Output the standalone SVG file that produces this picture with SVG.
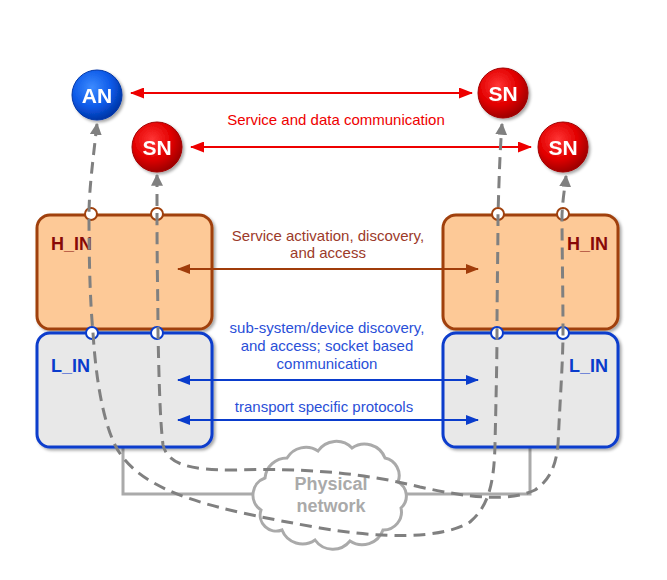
<svg xmlns="http://www.w3.org/2000/svg" width="667" height="580" viewBox="0 0 667 580">
<defs>
<style>
.lbl{font-family:"Liberation Sans",Arial,sans-serif;font-size:15px;text-anchor:middle}
.node{font-family:"Liberation Sans",Arial,sans-serif;font-size:21px;font-weight:bold;fill:#fff;text-anchor:middle}
.box{font-family:"Liberation Sans",Arial,sans-serif;font-size:18px;font-weight:bold}
.hin{fill:#fdc997;stroke:#a0410d;stroke-width:3}
.lin{fill:#e8e8e8;stroke:#0a3ccc;stroke-width:3}
.port{fill:#fff;stroke-width:2}
.dash{fill:none;stroke:#808080;stroke-width:3;stroke-dasharray:12 7;marker-start:url(#ga);marker-end:url(#ga)}
.phys{fill:none;stroke:#aaaaaa;stroke-width:3}
</style>
<radialGradient id="gb" cx="40%" cy="35%" r="65%">
<stop offset="0" stop-color="#3d8bff"/><stop offset="0.6" stop-color="#0d5ae8"/><stop offset="1" stop-color="#0036a8"/>
</radialGradient>
<radialGradient id="gr" cx="40%" cy="35%" r="65%">
<stop offset="0" stop-color="#ff3535"/><stop offset="0.6" stop-color="#e20000"/><stop offset="1" stop-color="#a00000"/>
</radialGradient>
<filter id="sh" x="-20%" y="-20%" width="150%" height="150%">
<feDropShadow dx="2" dy="2" stdDeviation="1.5" flood-color="#000" flood-opacity="0.35"/>
</filter>
<marker id="ga" markerUnits="userSpaceOnUse" markerWidth="12" markerHeight="12" refX="9" refY="5" viewBox="0 0 10 10" orient="auto-start-reverse">
<path d="M0,0 L10,5 L0,10 z" fill="#808080"/>
</marker>
<marker id="ra" markerUnits="userSpaceOnUse" markerWidth="14" markerHeight="11" refX="13" refY="5.5" viewBox="0 0 14 11" orient="auto-start-reverse">
<path d="M0,0 L14,5.5 L0,11 z" fill="#ee0000"/>
</marker>
<marker id="ba" markerUnits="userSpaceOnUse" markerWidth="13" markerHeight="10" refX="12" refY="5" viewBox="0 0 13 10" orient="auto-start-reverse">
<path d="M0,0 L13,5 L0,10 z" fill="#a03c0a"/>
</marker>
<marker id="la" markerUnits="userSpaceOnUse" markerWidth="13" markerHeight="10" refX="12" refY="5" viewBox="0 0 13 10" orient="auto-start-reverse">
<path d="M0,0 L13,5 L0,10 z" fill="#0a3ccc"/>
</marker>
</defs>

<g id="physical-network">
<path class="phys" d="M123,448 L123,494 L259,494"/>
<path class="phys" d="M402,494 L530,494 L530,448"/>
<path d="M265,478 A22,22 0 0 1 287,458 A22,22 0 0 1 318,451 A22,22 0 0 1 352,448 A22,22 0 0 1 385,458 A18,18 0 0 1 398,482 A16,16 0 0 1 401,508 A18,18 0 0 1 383,530 A22,22 0 0 1 350,541 A22,22 0 0 1 315,540 A22,22 0 0 1 282,530 A16,16 0 0 1 261,510 A18,18 0 0 1 265,478 z" fill="#fff" stroke="#aaaaaa" stroke-width="3"/>
<text x="331" y="490" class="box" fill="#aaaaaa" text-anchor="middle">Physical</text>
<text x="331" y="512" class="box" fill="#aaaaaa" text-anchor="middle">network</text>
</g>

<g id="left-hin" filter="url(#sh)">
<rect class="hin" x="37" y="215" width="175" height="114" rx="13"/>
</g>
<text x="51" y="250" class="box" fill="#880808">H_IN</text>
<g id="left-lin" filter="url(#sh)">
<rect class="lin" x="37" y="333" width="175" height="114" rx="13"/>
</g>
<text x="51" y="372" class="box" fill="#0a3ccc">L_IN</text>
<g id="right-hin" filter="url(#sh)">
<rect class="hin" x="443" y="215" width="175" height="114" rx="13"/>
</g>
<text x="608" y="250" class="box" fill="#880808" text-anchor="end">H_IN</text>
<g id="right-lin" filter="url(#sh)">
<rect class="lin" x="443" y="333" width="175" height="114" rx="13"/>
</g>
<text x="608" y="372" class="box" fill="#0a3ccc" text-anchor="end">L_IN</text>

<g id="ports">
<circle class="port" cx="91" cy="214" r="6" stroke="#a0410d"/>
<circle class="port" cx="157" cy="214" r="6" stroke="#a0410d"/>
<circle class="port" cx="498" cy="214" r="6" stroke="#a0410d"/>
<circle class="port" cx="563" cy="214" r="6" stroke="#a0410d"/>
<circle class="port" cx="92" cy="333" r="6" stroke="#0a3ccc"/>
<circle class="port" cx="157" cy="333" r="6" stroke="#0a3ccc"/>
<circle class="port" cx="497" cy="333" r="6" stroke="#0a3ccc"/>
<circle class="port" cx="563" cy="333" r="6" stroke="#0a3ccc"/>
</g>

<g id="AN" filter="url(#sh)">
<circle cx="97" cy="95" r="25" fill="url(#gb)" stroke="#0036a8" stroke-width="1"/>
<text x="97" y="103" class="node">AN</text>
</g>
<g id="SN-left" filter="url(#sh)">
<circle cx="157" cy="147" r="25" fill="url(#gr)" stroke="#a00000" stroke-width="1"/>
<text x="157" y="155" class="node">SN</text>
</g>
<g id="SN-right-top" filter="url(#sh)">
<circle cx="503" cy="93" r="25" fill="url(#gr)" stroke="#a00000" stroke-width="1"/>
<text x="503" y="101" class="node">SN</text>
</g>
<g id="SN-right" filter="url(#sh)">
<circle cx="563" cy="147" r="25" fill="url(#gr)" stroke="#a00000" stroke-width="1"/>
<text x="563" y="155" class="node">SN</text>
</g>

<g id="connectors">
<line x1="131" y1="93" x2="472" y2="93" stroke="#ee0000" stroke-width="2" marker-start="url(#ra)" marker-end="url(#ra)"/>
<line x1="191" y1="147" x2="531" y2="147" stroke="#ee0000" stroke-width="2" marker-start="url(#ra)" marker-end="url(#ra)"/>
<line x1="178" y1="269" x2="478" y2="269" stroke="#a03c0a" stroke-width="2" marker-start="url(#ba)" marker-end="url(#ba)"/>
<line x1="178" y1="380" x2="478" y2="380" stroke="#0a3ccc" stroke-width="2" marker-start="url(#la)" marker-end="url(#la)"/>
<line x1="178" y1="420" x2="478" y2="420" stroke="#0a3ccc" stroke-width="2" marker-start="url(#la)" marker-end="url(#la)"/>
<path class="dash" d="M97,124 C93,160 89,190 89,215 C89,260 90,300 93,333 C96,380 103,420 115,445 C140,495 220,510 320,528 C380,538 440,540 470,522 C490,505 494,480 495,445 C496,400 497,360 497,333 C497,290 498,250 498,215 C499,180 500,150 502,124"/>
<path class="dash" d="M157,175 L157,215 C157,270 158,300 158,333 C159,380 160,420 163,445 C168,465 190,470 235,470 C300,468 360,472 420,487 C470,498 510,502 535,490 C550,480 556,465 558,445 C560,400 563,360 563,333 C563,290 562,250 562,215 C563,195 565,188 566,176"/>
</g>

<g id="labels">
<text x="336" y="125" class="lbl" fill="#ee0000">Service and data communication</text>
<text x="328" y="241" class="lbl" fill="#9c3a2a">Service activation, discovery,</text>
<text x="328" y="258" class="lbl" fill="#9c3a2a">and access</text>
<text x="327" y="333" class="lbl" fill="#2a4fd8">sub-system/device discovery,</text>
<text x="327" y="351" class="lbl" fill="#2a4fd8">and access; socket based</text>
<text x="327" y="369" class="lbl" fill="#2a4fd8">communication</text>
<text x="324" y="412" class="lbl" fill="#2a4fd8">transport specific protocols</text>
</g>
</svg>
